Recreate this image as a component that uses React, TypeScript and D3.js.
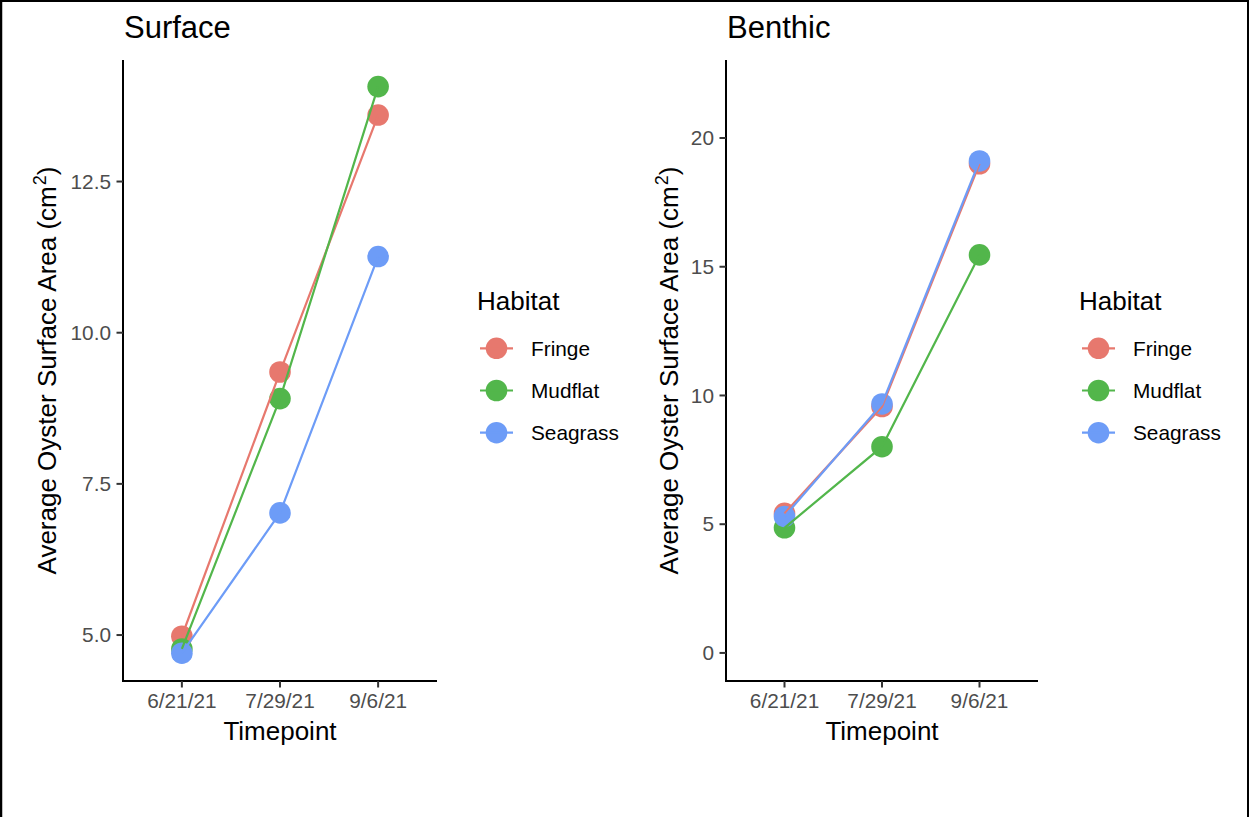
import React from "react";
import * as d3 from "d3";

const timepoints = ["6/21/21", "7/29/21", "9/6/21"];
const habitats = ["Fringe", "Mudflat", "Seagrass"];
const habitatColors = ["#e7786e", "#52b64b", "#6d9cf7"];

// surface oysters
const surfaceFringe = [4.98, 9.35, 13.6];
const surfaceMudflat = [4.77, 8.91, 14.07];
const surfaceSeagrass = [4.7, 7.02, 11.26];
const surfaceTicks = [5, 7.5, 10, 12.5];

// benthic oysters
const benthicFringe = [5.42, 9.57, 19.0];
const benthicMudflat = [4.86, 8.01, 15.46];
const benthicSeagrass = [5.3, 9.67, 19.11];
const benthicTicks = [0, 5, 10, 15, 20];

const FONT = "'Liberation Sans', Arial, Helvetica, sans-serif";

type PanelProps = {
  title: string;
  series: number[][];
  yDomain: [number, number];
  yTicks: number[];
  yFormat: (v: number) => string;
  left: number;
  right: number;
  yTitleX: number;
  legendX: number;
};

function Panel({ title, series, yDomain, yTicks, yFormat, left, right, yTitleX, legendX }: PanelProps) {
  const top = 60;
  const bottom = 681;
  const tickLen = 6.5;

  const xScale = d3.scalePoint<string>().domain(timepoints).range([left, right]).padding(0.6);
  const yScale = d3.scaleLinear().domain(yDomain).range([bottom, top]);

  const line = d3
    .line<number>()
    .x((_, i) => xScale(timepoints[i]) as number)
    .y((d) => yScale(d));

  return (
    <g fontFamily={FONT}>
      {/* title */}
      <text x={left + 1} y={37.5} fontSize={31} fill="#000">
        {title}
      </text>

      {/* points first, then lines */}
      {series.map((vals, s) =>
        vals.map((v, i) => (
          <circle
            key={`p${s}-${i}`}
            cx={xScale(timepoints[i])}
            cy={yScale(v)}
            r={10.8}
            fill={habitatColors[s]}
          />
        ))
      )}
      {series.map((vals, s) => (
        <path key={`l${s}`} d={line(vals) || ""} fill="none" stroke={habitatColors[s]} strokeWidth={2.2} />
      ))}

      {/* axes */}
      <line x1={left} x2={left} y1={top} y2={bottom + 1} stroke="#000" strokeWidth={2} />
      <line x1={left - 1} x2={right} y1={bottom} y2={bottom} stroke="#000" strokeWidth={2} />
      {yTicks.map((t) => (
        <g key={t} transform={`translate(0,${yScale(t)})`}>
          <line x1={left - tickLen} x2={left} stroke="#333" strokeWidth={2} />
          <text x={left - tickLen - 5.5} dy="0.35em" textAnchor="end" fontSize={20.8} fill="#4d4d4d">
            {yFormat(t)}
          </text>
        </g>
      ))}
      {timepoints.map((t) => (
        <g key={t} transform={`translate(${xScale(t)},0)`}>
          <line y1={bottom} y2={bottom + tickLen} stroke="#333" strokeWidth={2} />
          <text y={708} textAnchor="middle" fontSize={20.8} fill="#4d4d4d">
            {t}
          </text>
        </g>
      ))}

      {/* axis titles */}
      <text x={(left + right) / 2} y={740} textAnchor="middle" fontSize={26} fill="#000">
        Timepoint
      </text>
      <text
        transform={`translate(${yTitleX},${(top + bottom) / 2}) rotate(-90)`}
        textAnchor="middle"
        fontSize={26}
        fill="#000"
      >
        Average Oyster Surface Area (cm
        <tspan fontSize={18} dy={-10} dx={1}>
          2
        </tspan>
        <tspan dy={10}>)</tspan>
      </text>

      {/* legend */}
      <text x={legendX} y={310} fontSize={26} fill="#000">
        Habitat
      </text>
      {habitats.map((h, i) => {
        const cy = 348.3 + i * 42.2;
        const cx = legendX + 19.5;
        return (
          <g key={h}>
            <circle cx={cx} cy={cy} r={10.8} fill={habitatColors[i]} />
            <line x1={cx - 16.5} x2={cx + 16.5} y1={cy} y2={cy} stroke={habitatColors[i]} strokeWidth={2.2} />
            <text x={legendX + 54} y={cy} dy="0.35em" fontSize={20.8} fill="#000">
              {h}
            </text>
          </g>
        );
      })}
    </g>
  );
}

export default function App() {
  const width = 1249;
  const height = 817;
  return (
    <svg
      width={width}
      height={height}
      style={{ position: "absolute", left: 0, top: 0, background: "#fff" }}
    >
      <Panel
        title="Surface"
        series={[surfaceFringe, surfaceMudflat, surfaceSeagrass]}
        yDomain={[4.24, 14.51]}
        yTicks={surfaceTicks}
        yFormat={d3.format(".1f")}
        left={123}
        right={437}
        yTitleX={56}
        legendX={477}
      />
      <Panel
        title="Benthic"
        series={[benthicFringe, benthicMudflat, benthicSeagrass]}
        yDomain={[-1.09, 23.03]}
        yTicks={benthicTicks}
        yFormat={d3.format("d")}
        left={726}
        right={1038}
        yTitleX={678}
        legendX={1079}
      />
      {/* frame */}
      <line x1={0} x2={width} y1={1} y2={1} stroke="#000" strokeWidth={2} />
      <line x1={1} x2={1} y1={0} y2={height} stroke="#000" strokeWidth={2.5} />
      <line x1={1248} x2={1248} y1={0} y2={height} stroke="#000" strokeWidth={2} />
    </svg>
  );
}
